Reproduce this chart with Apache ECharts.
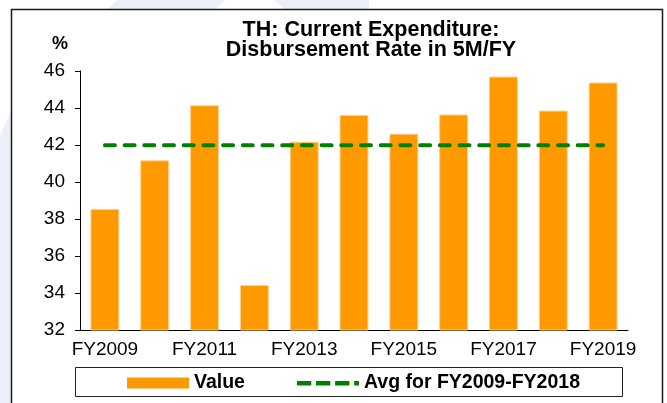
<!DOCTYPE html>
<html>
<head>
<meta charset="utf-8">
<script src="https://cdn.jsdelivr.net/npm/echarts@6/dist/echarts.min.js"></script>
<style>html,body{margin:0;padding:0;background:#fff}#c{width:667px;height:403px}</style>
</head>
<body>
<div id="c"></div>
<script>
var categories = ['FY2009','FY2010','FY2011','FY2012','FY2013','FY2014','FY2015','FY2016','FY2017','FY2018','FY2019'];
var values = [38.54, 41.17, 44.15, 34.43, 42.18, 43.62, 42.61, 43.65, 45.70, 43.86, 45.38];
var avgValue = 41.99;
var avgLine = categories.map(function(){ return avgValue; });
var yTicks = [32, 34, 36, 38, 40, 42, 44, 46];

var chart = echarts.init(document.getElementById('c'), null, {renderer:'canvas'});
var F = 'Liberation Sans, Arial, sans-serif';
var dashIcon = 'path://M0,0 M65,11 M0,3.5h15v4.5h-15z M20,3.5h15v4.5h-15z M40,3.5h15v4.5h-15z M60,3.5h5v4.5h-5z';
chart.setOption({
  backgroundColor: '#ffffff',
  animation: false,
  graphic: [
    {type:'polygon', z:-10, silent:true, shape:{points:[[0,135],[12,110],[12,403],[0,403]]}, style:{fill:'#eef0f9'}},
    {type:'polygon', z:-10, silent:true, shape:{points:[[107,10],[117,0],[225,0],[215,10]]}, style:{fill:'#eef0f9'}},
    {type:'polygon', z:-10, silent:true, shape:{points:[[274,0],[369,0],[369,10],[285,10]]}, style:{fill:'#eef0f9'}},
    {type:'rect', z:-5, silent:true, shape:{x:11.5, y:9.5, width:651, height:420}, style:{fill:'#ffffff', stroke:'#1a1a1a', lineWidth:1.5}},
    {type:'rect', z:-4, silent:true, shape:{x:75.5, y:367.5, width:547, height:29}, style:{fill:'#ffffff', stroke:'#222', lineWidth:1}}
  ],
  title: {
    text: 'TH: Current Expenditure:\nDisbursement Rate in 5M/FY',
    left: 366, top: 15, textAlign: 'center', padding: 5,
    textStyle: {fontFamily: F, fontSize: 21.5, fontWeight: 'bold', color: '#000', lineHeight: 20}
  },
  legend: {
    top: 373, left: 127, padding: 0,
    itemWidth: 62, itemHeight: 11, itemGap: 52,
    textStyle: {fontFamily: F, fontSize: 19.5, fontWeight: 'bold', color: '#000'},
    data: [{name:'Value', icon:'rect', itemStyle:{borderWidth:0}}, {name:'Avg for FY2009-FY2018', icon: dashIcon}]
  },
  grid: {left: 80, right: 39, top: 71, bottom: 73, containLabel: false},
  xAxis: {
    type: 'category', data: categories,
    axisLine: {lineStyle: {color: '#000', width: 1}},
    axisTick: {alignWithLabel: false, interval: 0, length: 5, lineStyle:{color:'#000'}},
    axisLabel: {interval: 1, color: '#000', fontFamily: F, fontSize: 19, margin: 10}
  },
  yAxis: {
    type: 'value', min: 32, max: 46, interval: 2,
    name: '%', nameLocation: 'end', nameGap: 18,
    nameTextStyle: {fontFamily: F, fontSize: 18, fontWeight: 'bold', color: '#000', align: 'right', padding: [0, 12, 0, 0]},
    axisLine: {show: true, lineStyle: {color: '#000', width: 1}},
    axisTick: {show: true, length: 5, lineStyle:{color:'#000'}},
    splitLine: {show: false},
    axisLabel: {color: '#000', fontFamily: F, fontSize: 19, margin: 15,
      formatter: function(v){ return yTicks.indexOf(v) >= 0 ? String(v) : ''; }}
  },
  series: [
    {name: 'Value', type: 'bar', data: values, barWidth: '58%',
     itemStyle: {color: '#ff9900', borderColor: '#ffd08a', borderWidth: 1}},
    {name: 'Avg for FY2009-FY2018', type: 'line', data: avgLine, symbol: 'none',
     lineStyle: {color: '#008000', width: 4, type: [10, 9.7], cap: 'round'},
     itemStyle: {color: '#008000'}}
  ]
});
</script>
</body>
</html>
